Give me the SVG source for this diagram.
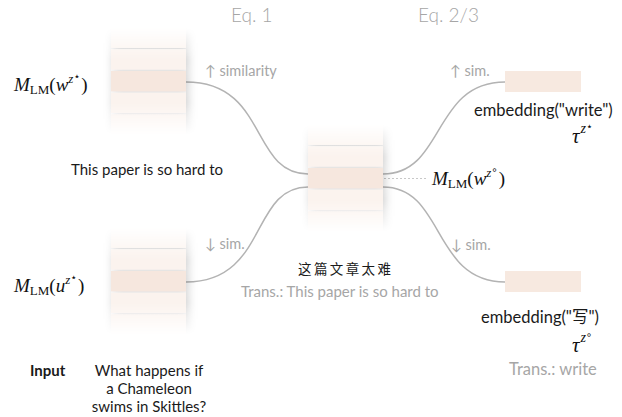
<svg xmlns="http://www.w3.org/2000/svg" width="622" height="417" viewBox="0 0 622 417">
<style>
.sans{font-family:Lato,"Open Sans","DejaVu Sans",sans-serif}
.gray{fill:#a6a6a6}
.black{fill:#1a1a1a}
.math{font-family:"Liberation Serif","DejaVu Serif",serif;fill:#111}
.it{font-style:italic}
.sym{font-family:"DejaVu Sans",sans-serif;font-style:normal}
.row{fill:#fbf3ee}
.hl{fill:#f6e7de}
.edge{fill:none;stroke:#b3b3b3;stroke-width:1.5}
.emb{fill:#f7e9e0}
.cjk{font-family:"Noto Sans CJK SC","Noto Sans CJK JP",sans-serif}
</style>
<defs>
<linearGradient id="fadeGrad" x1="0" y1="0" x2="0" y2="1">
<stop offset="0" stop-color="#fff" stop-opacity="0"/>
<stop offset="0.2" stop-color="#fff" stop-opacity="0.7"/>
<stop offset="0.3" stop-color="#fff" stop-opacity="1"/>
<stop offset="0.7" stop-color="#fff" stop-opacity="1"/>
<stop offset="0.8" stop-color="#fff" stop-opacity="0.7"/>
<stop offset="1" stop-color="#fff" stop-opacity="0"/>
</linearGradient>
<mask id="fade" maskContentUnits="objectBoundingBox" x="-0.5" y="0" width="2" height="1">
<rect x="-1" y="0" width="3" height="1" fill="url(#fadeGrad)"/>
</mask>
<filter id="shadow" x="-0.4" y="-0.2" width="1.8" height="1.4">
<feDropShadow dx="2" dy="1" stdDeviation="5" flood-color="#000" flood-opacity="0.2"/>
</filter>
<g id="stack">
<rect class="row" x="0" y="0" width="75" height="20.5"/>
<rect class="row" x="0" y="21.7" width="75" height="20.5"/>
<rect class="hl" x="0" y="43.4" width="75" height="20.5"/>
<rect class="row" x="0" y="65.1" width="75" height="20.5"/>
<rect class="row" x="0" y="86.8" width="75" height="20.5"/>
</g>
</defs>

<g id="connectors">
<path class="edge" d="M186,82 C268,82 250,174 308,174"/>
<path class="edge" d="M186,282 C268,282 250,187 308,187"/>
<path class="edge" d="M383,174 C445,174 432,82 505,82"/>
<path class="edge" d="M383,187 C445,187 432,282 505,282"/>
<line x1="384" y1="178.5" x2="428" y2="178.5" stroke="#c8c8c8" stroke-width="1" stroke-dasharray="2,2"/>
</g>

<g id="headers">
<text class="sans gray" x="231" y="22" font-size="19" font-weight="300">Eq. 1</text>
<text class="sans gray" x="418" y="22" font-size="19" font-weight="300">Eq. 2/3</text>
</g>

<g id="node-left-top">
<g mask="url(#fade)"><g filter="url(#shadow)"><use href="#stack" x="111" y="27.5"/></g></g>
<text class="math" x="14" y="91" font-size="19"><tspan class="it">M</tspan><tspan font-size="13" dy="3">LM</tspan><tspan dy="-3">(</tspan><tspan class="it">w</tspan><tspan class="it" font-size="13" dy="-8">z</tspan><tspan class="sym" font-size="11" dy="-3">⋆</tspan><tspan dy="11" dx="1">)</tspan></text>
<text class="sans black" x="71" y="175" font-size="15">This paper is so hard to</text>
</g>

<g id="node-left-bottom">
<g mask="url(#fade)"><g filter="url(#shadow)"><use href="#stack" x="111" y="227.5"/></g></g>
<text class="math" x="14" y="292" font-size="19"><tspan class="it">M</tspan><tspan font-size="13" dy="3">LM</tspan><tspan dy="-3">(</tspan><tspan class="it">u</tspan><tspan class="it" font-size="13" dy="-8">z</tspan><tspan class="sym" font-size="11" dy="-3">⋆</tspan><tspan dy="11" dx="1">)</tspan></text>
<text class="sans black" x="30" y="376" font-size="15" font-weight="bold">Input</text>
<text class="sans black" font-size="15" text-anchor="middle"><tspan x="149" y="376">What happens if</tspan><tspan x="149" y="394">a Chameleon</tspan><tspan x="149" y="412">swims in Skittles?</tspan></text>
</g>

<g id="node-center">
<g mask="url(#fade)"><g filter="url(#shadow)"><use href="#stack" x="308" y="124.5"/></g></g>
<text class="math" x="432" y="185" font-size="19"><tspan class="it">M</tspan><tspan font-size="13" dy="3">LM</tspan><tspan dy="-3">(</tspan><tspan class="it">w</tspan><tspan class="it" font-size="13" dy="-8">z</tspan><tspan class="sym" font-size="10" dy="-4">∘</tspan><tspan dy="12" dx="1">)</tspan></text>
<text class="cjk black" x="298" y="274" font-size="13.5" letter-spacing="2.4">这篇文章太难</text>
<text class="sans gray" x="241" y="297" font-size="15">Trans.: This paper is so hard to</text>
</g>

<g id="node-right-top">
<rect class="emb" x="505" y="71" width="76" height="21"/>
<text class="sans black" x="474" y="116" font-size="16.5">embedding("write")</text>
<text class="math" x="572" y="143" font-size="21"><tspan class="it">τ</tspan><tspan class="it" font-size="14" dy="-10" dx="1">z</tspan><tspan class="sym" font-size="11" dy="-3">⋆</tspan></text>
</g>

<g id="node-right-bottom">
<rect class="emb" x="505" y="271" width="76" height="21"/>
<text class="sans black" x="481" y="323" font-size="16.5">embedding("<tspan class="cjk" font-size="16.5">写</tspan>")</text>
<text class="math" x="572" y="352" font-size="21"><tspan class="it">τ</tspan><tspan class="it" font-size="14" dy="-10" dx="1">z</tspan><tspan class="sym" font-size="10" dy="-4">∘</tspan></text>
<text class="sans gray" x="509" y="375" font-size="16.5">Trans.: write</text>
</g>

<g id="edge-labels">
<text class="sans gray" x="205" y="76" font-size="14.5">↑ similarity</text>
<text class="sans gray" x="450" y="76" font-size="14.5">↑ sim.</text>
<text class="sans gray" x="205" y="249" font-size="14.5">↓ sim.</text>
<text class="sans gray" x="451" y="250" font-size="14.5">↓ sim.</text>
</g>
</svg>
